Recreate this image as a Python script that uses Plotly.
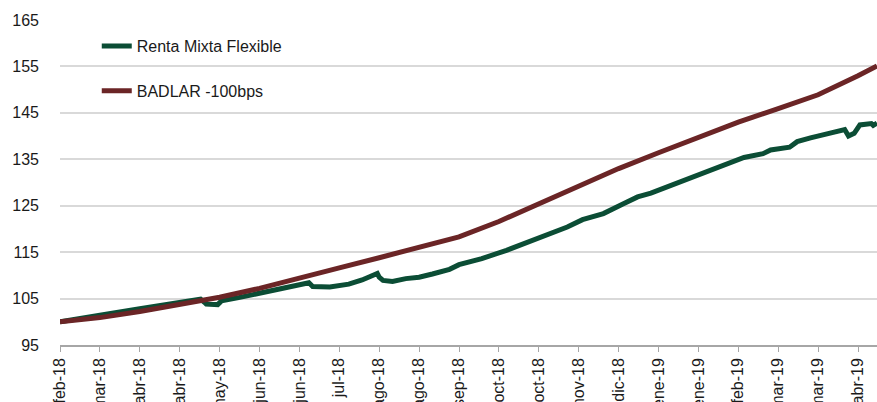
import plotly.graph_objects as go

# Tick positions/labels (one label every 21 days)
tick_dates = ["2018-02-20", "2018-03-13", "2018-04-03", "2018-04-24", "2018-05-15",
              "2018-06-05", "2018-06-26", "2018-07-17", "2018-08-07", "2018-08-28",
              "2018-09-18", "2018-10-09", "2018-10-30", "2018-11-20", "2018-12-11",
              "2019-01-01", "2019-01-22", "2019-02-12", "2019-03-05", "2019-03-26",
              "2019-04-16"]
tick_labels = ["feb-18", "mar-18", "abr-18", "abr-18", "may-18", "jun-18", "jun-18",
               "jul-18", "ago-18", "ago-18", "sep-18", "oct-18", "oct-18", "nov-18",
               "dic-18", "ene-19", "ene-19", "feb-19", "mar-19", "mar-19", "abr-19"]

# BADLAR -100bps
badlar_dates = tick_dates + ["2019-04-26"]
badlar_vals = [100.0, 100.9, 102.2, 103.7, 105.3, 107.2, 109.3, 111.6, 113.8, 116.0,
               118.3, 121.6, 125.4, 129.3, 133.0, 136.4, 139.8, 143.0, 145.9, 148.9,
               153.0, 155.1]

# Renta Mixta Flexible
rmf_dates = ["2018-02-20", "2018-02-28", "2018-03-13", "2018-04-03", "2018-04-24",
             "2018-05-05", "2018-05-07", "2018-05-08", "2018-05-14", "2018-05-16",
             "2018-05-25", "2018-06-04", "2018-06-20", "2018-07-01", "2018-07-03",
             "2018-07-12", "2018-07-22", "2018-07-29", "2018-08-06", "2018-08-07",
             "2018-08-09", "2018-08-14", "2018-08-21", "2018-08-28", "2018-09-04",
             "2018-09-13", "2018-09-18", "2018-09-30", "2018-10-13", "2018-10-23",
             "2018-11-03", "2018-11-14", "2018-11-22", "2018-12-03", "2018-12-13",
             "2018-12-21", "2018-12-28", "2019-01-07", "2019-01-18", "2019-02-01",
             "2019-02-15", "2019-02-25", "2019-03-01", "2019-03-11", "2019-03-15",
             "2019-03-22", "2019-03-29", "2019-04-07", "2019-04-09", "2019-04-11",
             "2019-04-14", "2019-04-17", "2019-04-23", "2019-04-24", "2019-04-26"]
rmf_vals = [100.0, 100.6, 101.4, 102.8, 104.2,
            104.9, 104.2, 103.8, 103.7, 104.5,
            105.2, 106.0, 107.4, 108.4, 107.6,
            107.5, 108.1, 109.0, 110.4, 109.6,
            108.9, 108.7, 109.3, 109.6, 110.3,
            111.3, 112.3, 113.6, 115.4, 117.0,
            118.9, 120.4, 122.0, 123.3, 125.3,
            126.9, 127.7, 129.3, 131.0, 133.2,
            135.4, 136.2, 137.0, 137.6, 138.8,
            139.6, 140.3, 141.4, 141.4, 140.0,
            140.6, 142.4, 142.7, 142.3, 142.8]

GREEN = "#0b4d35"
MAROON = "#6b2526"
FONT = "Liberation Sans, Arial, sans-serif"
TXT = "#1a1a1a"

fig = go.Figure()
fig.add_trace(go.Scatter(x=rmf_dates, y=rmf_vals, mode="lines", name="Renta Mixta Flexible",
                         line=dict(color=GREEN, width=5), legendgroup="a"))
fig.add_trace(go.Scatter(x=badlar_dates, y=badlar_vals, mode="lines", name="BADLAR -100bps",
                         line=dict(color=MAROON, width=5), legendgroup="b"))

fig.update_layout(
    width=877, height=402,
    margin=dict(l=60, r=0, t=20, b=57),
    paper_bgcolor="white", plot_bgcolor="white",
    font=dict(family=FONT, size=16, color=TXT),
    showlegend=True,
    legend=dict(x=0.045, y=0.972, xanchor="left", yanchor="top",
                bgcolor="rgba(0,0,0,0)", traceorder="grouped", tracegroupgap=21,
                font=dict(family=FONT, size=16, color=TXT)),
    xaxis=dict(type="date", range=["2018-02-20", "2019-04-26"], automargin=False,
               tickmode="array", tickvals=tick_dates, ticktext=tick_labels,
               tickangle=-90, showgrid=False, showline=True, linecolor="#a6a6a6",
               linewidth=1.5, ticks="outside", ticklen=5, tickcolor="#a6a6a6",
               tickfont=dict(family=FONT, size=16, color=TXT), zeroline=False),
    yaxis=dict(range=[95, 165], automargin=False, tickmode="array",
               tickvals=[95, 105, 115, 125, 135, 145, 155, 165],
               showgrid=True, gridcolor="#d9d9d9", gridwidth=1.5, zeroline=False,
               showline=False, ticks="", ticklabelstandoff=20,
               tickfont=dict(family=FONT, size=16, color=TXT)),
)

fig.write_html("out.html", config={"displayModeBar": False},
               post_script="document.body.style.margin='0';document.body.style.overflow='hidden';")
